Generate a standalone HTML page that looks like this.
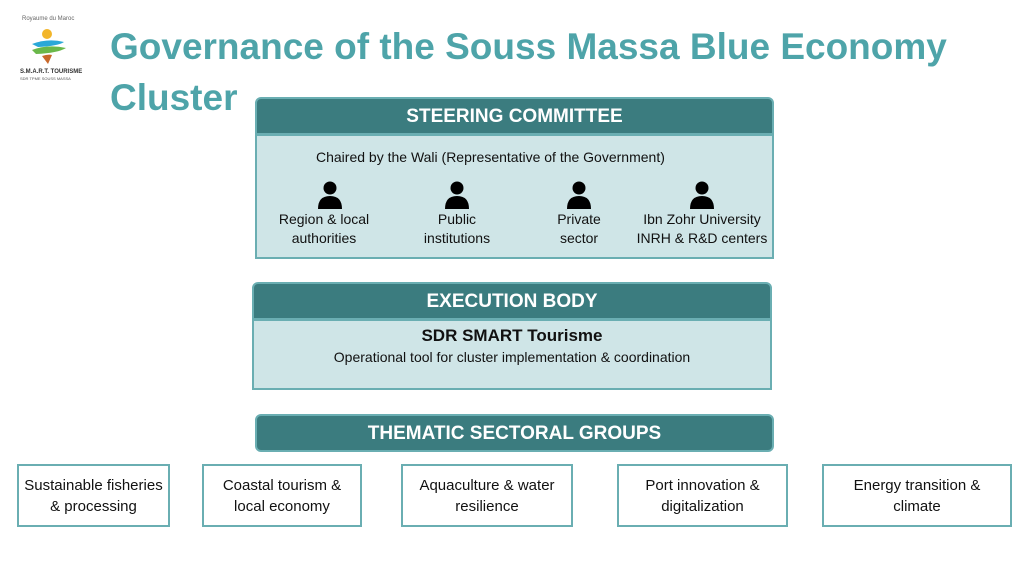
<!DOCTYPE html>
<html><head><meta charset="utf-8"><style>
body{margin:0;width:1024px;height:576px;background:#fff;position:relative;overflow:hidden;font-family:"Liberation Sans",sans-serif}
.a{position:absolute}
.t{color:#4ea4a9;font-weight:bold;font-size:37px;left:110px}
.h{background:#3b7c7f;color:#fff;font-weight:bold;font-size:19px;text-align:center;box-sizing:border-box;border:2px solid #6aaeb2}
.b{background:#cfe5e7;border:2px solid #6aaeb2;box-sizing:border-box}
.g{border:2px solid #6aaeb2;box-sizing:border-box;text-align:center;font-size:15px;color:#111;display:flex;align-items:center;justify-content:center;line-height:21px;background:#fff}
.p{text-align:center;font-size:14px;color:#111;line-height:19px}
</style></head><body>
<div class="a" style="left:22px;top:16px;font-size:6px;color:#666">Royaume du Maroc</div>
<svg class="a" style="left:28px;top:28px" width="44" height="38" viewBox="0 0 44 38">
<circle cx="19" cy="6" r="5" fill="#f2b52a"/>
<path d="M4 16 Q20 10 36 14 Q30 18 10 19Z" fill="#2aa8d8"/>
<path d="M4 22 Q20 16 38 20 Q30 25 8 26Z" fill="#6ab84a"/>
<path d="M14 28 Q20 26 24 27 L20 36Z" fill="#c8682a"/>
</svg>
<div class="a" style="left:20px;top:69px;font-size:6px;color:#333;font-weight:bold">S.M.A.R.T. TOURISME</div>
<div class="a" style="left:20px;top:76px;font-size:4px;color:#555">SDR TPME SOUSS MASSA</div>
<div class="a t" style="top:26px">Governance of the Souss Massa Blue Economy</div>
<div class="a t" style="top:77px">Cluster</div>

<div class="a h" style="left:255px;top:97px;width:519px;height:38px;line-height:36px;border-radius:6px 6px 0 0">STEERING COMMITTEE</div>
<div class="a b" style="left:255px;top:134px;width:519px;height:125px"></div>
<div class="a" style="left:316px;top:149px;font-size:14px;color:#111">Chaired by the Wali (Representative of the Government)</div>
<svg width="0" height="0" style="position:absolute"><defs><g id="u"><circle cx="12" cy="7" r="6.5"/><path d="M0 28 Q0 15 12 15 Q24 15 24 28Z"/></g></defs></svg>
<svg class="a" style="left:318px;top:181px" width="24" height="28"><use href="#u"/></svg>
<svg class="a" style="left:445px;top:181px" width="24" height="28"><use href="#u"/></svg>
<svg class="a" style="left:567px;top:181px" width="24" height="28"><use href="#u"/></svg>
<svg class="a" style="left:690px;top:181px" width="24" height="28"><use href="#u"/></svg>
<div class="a p" style="left:264px;top:210px;width:120px">Region &amp; local<br>authorities</div>
<div class="a p" style="left:397px;top:210px;width:120px">Public<br>institutions</div>
<div class="a p" style="left:519px;top:210px;width:120px">Private<br>sector</div>
<div class="a p" style="left:630px;top:210px;width:144px">Ibn Zohr University<br>INRH &amp; R&amp;D centers</div>

<div class="a h" style="left:252px;top:282px;width:520px;height:38px;line-height:36px;border-radius:6px 6px 0 0">EXECUTION BODY</div>
<div class="a b" style="left:252px;top:319px;width:520px;height:71px"></div>
<div class="a" style="left:252px;top:326px;width:520px;text-align:center;font-size:17px;font-weight:bold;color:#111">SDR SMART Tourisme</div>
<div class="a" style="left:252px;top:349px;width:520px;text-align:center;font-size:14px;color:#111">Operational tool for cluster implementation &amp; coordination</div>

<div class="a h" style="left:255px;top:414px;width:519px;height:38px;line-height:36px;border-radius:6px">THEMATIC SECTORAL GROUPS</div>

<div class="a g" style="left:17px;top:464px;width:153px;height:63px">Sustainable fisheries<br>&amp; processing</div>
<div class="a g" style="left:202px;top:464px;width:160px;height:63px">Coastal tourism &amp;<br>local economy</div>
<div class="a g" style="left:401px;top:464px;width:172px;height:63px">Aquaculture &amp; water<br>resilience</div>
<div class="a g" style="left:617px;top:464px;width:171px;height:63px">Port innovation &amp;<br>digitalization</div>
<div class="a g" style="left:822px;top:464px;width:190px;height:63px">Energy transition &amp;<br>climate</div>
</body></html>
